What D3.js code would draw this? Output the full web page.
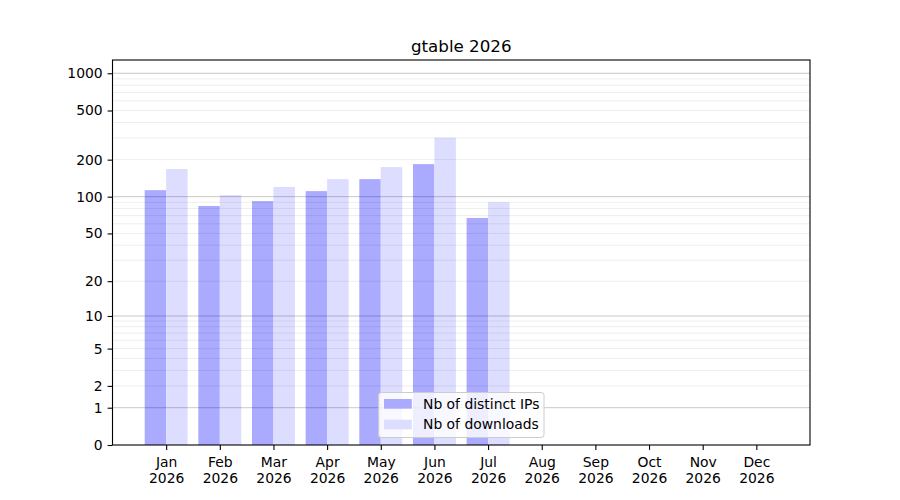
<!DOCTYPE html>
<html>
<head>
<meta charset="utf-8">
<script src="https://cdn.jsdelivr.net/npm/d3@7"></script>
<style>
    body { margin: 0; background: #fff; }
    #chart { width: 900px; height: 500px; }
    text { font-family: "DejaVu Sans", sans-serif; fill: #000; }
</style>
</head>
<body>
<div id="chart"></div>
<script>
// Chart data
const months = ["Jan", "Feb", "Mar", "Apr", "May", "Jun", "Jul", "Aug", "Sep", "Oct", "Nov", "Dec"];
const year = "2026";
const distinctIPs = [113, 84, 92, 111, 139, 184, 67];
const downloads = [168, 103, 120, 139, 174, 301, 90];

// Axis ticks
const yTickValues = [0, 1, 2, 5, 10, 20, 50, 100, 200, 500, 1000];
const majorGridValues = [1, 10, 100, 1000];
const minorGridValues = [2, 3, 4, 5, 6, 7, 8, 9, 20, 30, 40, 50, 60, 70, 80, 90, 200, 300, 400, 500, 600, 700, 800, 900];
const yMax = 1280;

const seriesNames = ["Nb of distinct IPs", "Nb of downloads"];
const seriesColors = ["#aaaaff", "#ddddff"];

function createChart() {
    const width = 900;
    const height = 500;
    const plot = { left: 112.5, right: 810, top: 60, bottom: 445 };

    d3.select("#chart").selectAll("svg").remove();

    const svg = d3.select("#chart")
        .append("svg")
        .attr("width", width)
        .attr("height", height);

    // x in month-index units, y is log(1 + v)
    const x = d3.scaleLinear()
        .domain([-1, months.length])
        .range([plot.left, plot.right]);

    const y = d3.scaleSymlog()
        .constant(1)
        .domain([0, yMax])
        .range([plot.bottom, plot.top]);

    const barWidth = 0.4;

    // Bars
    svg.append("g")
        .selectAll("rect")
        .data(distinctIPs)
        .enter()
        .append("rect")
        .attr("x", (d, i) => x(i - barWidth))
        .attr("width", (d, i) => x(i) - x(i - barWidth))
        .attr("y", d => y(d))
        .attr("height", d => y(0) - y(d))
        .attr("fill", seriesColors[0]);

    svg.append("g")
        .selectAll("rect")
        .data(downloads)
        .enter()
        .append("rect")
        .attr("x", (d, i) => x(i))
        .attr("width", (d, i) => x(i + barWidth) - x(i))
        .attr("y", d => y(d))
        .attr("height", d => y(0) - y(d))
        .attr("fill", seriesColors[1]);

    // Grid lines (drawn over the bars)
    svg.append("g")
        .selectAll("line")
        .data(minorGridValues)
        .enter()
        .append("line")
        .attr("x1", plot.left)
        .attr("x2", plot.right)
        .attr("y1", d => y(d))
        .attr("y2", d => y(d))
        .attr("stroke", "#000")
        .attr("stroke-opacity", 0.07)
        .attr("stroke-width", 1);

    svg.append("g")
        .selectAll("line")
        .data(majorGridValues)
        .enter()
        .append("line")
        .attr("x1", plot.left)
        .attr("x2", plot.right)
        .attr("y1", d => y(d))
        .attr("y2", d => y(d))
        .attr("stroke", "#000")
        .attr("stroke-opacity", 0.22)
        .attr("stroke-width", 1);

    // Y axis
    const yAxis = svg.append("g")
        .attr("transform", `translate(${plot.left}, 0)`)
        .call(d3.axisLeft(y)
            .tickValues(yTickValues)
            .tickFormat(d3.format("d"))
            .tickSize(4.9)
            .tickPadding(4.9));
    yAxis.select(".domain").remove();
    yAxis.selectAll("line").attr("stroke", "#000").attr("stroke-width", 1.1);
    yAxis.selectAll("text")
        .style("font-family", "DejaVu Sans")
        .style("font-size", "13.9px")
        .attr("fill", "#000");

    // X axis
    const xAxis = svg.append("g")
        .attr("transform", `translate(0, ${plot.bottom})`)
        .call(d3.axisBottom(x)
            .tickValues(d3.range(months.length))
            .tickFormat("")
            .tickSize(4.9));
    xAxis.select(".domain").remove();
    xAxis.selectAll("line").attr("stroke", "#000").attr("stroke-width", 1.1);
    xAxis.selectAll(".tick")
        .append("text")
        .attr("text-anchor", "middle")
        .style("font-size", "13.9px")
        .each(function(d) {
            const t = d3.select(this);
            t.append("tspan").attr("x", 0).attr("y", 22).text(months[d]);
            t.append("tspan").attr("x", 0).attr("y", 38).text(year);
        });

    // Frame
    svg.append("rect")
        .attr("x", plot.left)
        .attr("y", plot.top)
        .attr("width", plot.right - plot.left)
        .attr("height", plot.bottom - plot.top)
        .attr("fill", "none")
        .attr("stroke", "#000")
        .attr("stroke-width", 1.1);

    // Title
    svg.append("text")
        .attr("x", (plot.left + plot.right) / 2)
        .attr("y", 52)
        .attr("text-anchor", "middle")
        .style("font-size", "16.7px")
        .text("gtable " + year);

    // Legend
    const legend = svg.append("g")
        .attr("transform", "translate(378.5, 392.5)");

    legend.append("rect")
        .attr("width", 165.5)
        .attr("height", 45)
        .attr("rx", 2.8)
        .attr("fill", "#fff")
        .attr("fill-opacity", 0.8)
        .attr("stroke", "#cccccc")
        .attr("stroke-width", 1);

    seriesNames.forEach((name, i) => {
        legend.append("rect")
            .attr("x", 5.5)
            .attr("y", 6.5 + i * 20.7)
            .attr("width", 27.8)
            .attr("height", 9.7)
            .attr("fill", seriesColors[i]);
        legend.append("text")
            .attr("x", 44.5)
            .attr("y", 16.2 + i * 20.7)
            .style("font-size", "13.9px")
            .text(name);
    });
}

document.addEventListener("DOMContentLoaded", createChart);
</script>
</body>
</html>
